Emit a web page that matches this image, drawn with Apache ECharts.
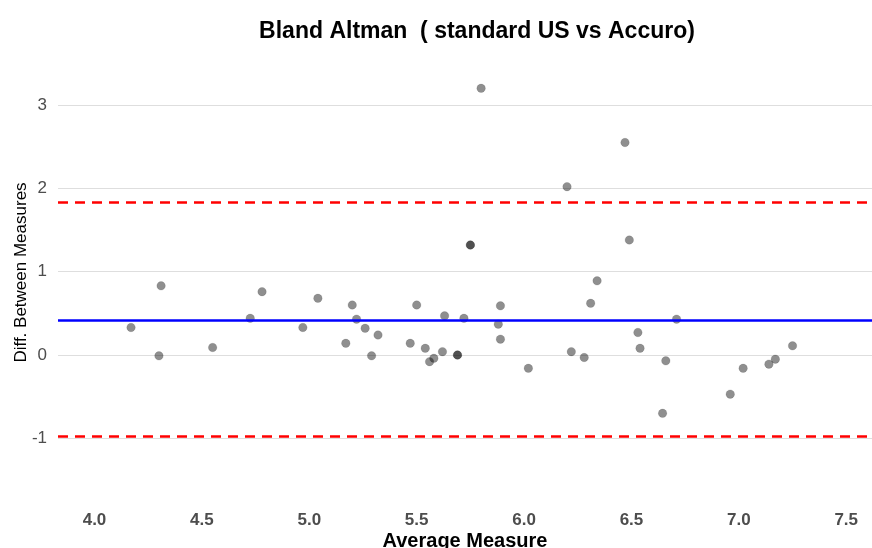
<!DOCTYPE html>
<html>
<head>
<meta charset="utf-8">
<script src="https://cdn.jsdelivr.net/npm/echarts@6/dist/echarts.min.js"></script>
<style>
  html, body { margin: 0; padding: 0; background: #fff; }
  #chart { width: 872px; height: 548px; }
</style>
</head>
<body>
<div id="chart"></div>
<script>
// average of the two measures (x) and their difference (y)
var avgMeasure = [4.17, 4.30, 4.31, 4.55, 4.725, 4.78, 4.97, 5.04, 5.17, 5.20, 5.22, 5.26,
  5.29, 5.32, 5.47, 5.50, 5.54, 5.56, 5.58, 5.62, 5.63, 5.69, 5.69, 5.72, 5.75, 5.75,
  5.80, 5.88, 5.89, 5.89, 6.02, 6.20, 6.22, 6.28, 6.31, 6.34, 6.47, 6.49, 6.53, 6.54,
  6.645, 6.66, 6.71, 6.96, 7.02, 7.14, 7.17, 7.25];
var diffMeasure = [0.33, -0.01, 0.83, 0.09, 0.44, 0.76, 0.33, 0.68, 0.14, 0.60, 0.43, 0.32,
  -0.01, 0.24, 0.14, 0.60, 0.08, -0.08, -0.04, 0.04, 0.47, 0.0, 0.0, 0.44, 1.32, 1.32,
  3.20, 0.37, 0.59, 0.19, -0.16, 2.02, 0.04, -0.03, 0.62, 0.89, 2.55, 1.38, 0.27, 0.08,
  -0.70, -0.07, 0.43, -0.47, -0.16, -0.11, -0.05, 0.11];

var meanDiff = 0.42;
var upperLoA = 1.83;
var lowerLoA = -0.98;

var xTicks = [4.0, 4.5, 5.0, 5.5, 6.0, 6.5, 7.0, 7.5];
var yTicks = [-1, 0, 1, 2, 3];

var points = avgMeasure.map(function (x, i) { return [x, diffMeasure[i]]; });

var myChart = echarts.init(document.getElementById('chart'), null, { renderer: 'canvas' });

myChart.setOption({
  animation: false,
  title: {
    text: 'Bland Altman  ( standard US vs Accuro)',
    left: 472,
    top: 15,
    textAlign: 'center',
    textStyle: { fontFamily: 'Liberation Sans', fontWeight: 'bold', fontSize: 23, color: '#000' }
  },
  grid: { left: 58, right: 0, top: 35, bottom: 38, outerBoundsMode: 'none' },
  xAxis: {
    type: 'value',
    min: 3.83,
    max: 7.62,
    name: 'Average Measure',
    nameLocation: 'middle',
    nameGap: 21,
    nameMoveOverlap: false,
    nameTextStyle: { fontFamily: 'Liberation Sans', fontWeight: 'bold', fontSize: 20, color: '#000' },
    axisLine: { show: false },
    axisTick: { show: false, customValues: xTicks },
    axisLabel: {
      customValues: xTicks,
      margin: 2,
      fontFamily: 'Liberation Sans',
      fontWeight: 'bold',
      fontSize: 17,
      color: '#4d4d4d',
      formatter: function (v) { return v.toFixed(1); }
    },
    splitLine: { show: false }
  },
  yAxis: {
    type: 'value',
    min: -1.86,
    max: 3.84,
    name: 'Diff. Between Measures',
    nameLocation: 'middle',
    nameGap: 28,
    nameMoveOverlap: false,
    nameTextStyle: { fontFamily: 'Liberation Sans', fontSize: 17, color: '#000' },
    axisLine: { show: false },
    axisTick: { show: false, customValues: yTicks },
    axisLabel: {
      customValues: yTicks,
      margin: 11,
      fontFamily: 'Liberation Sans',
      fontSize: 17,
      color: '#4d4d4d'
    },
    splitLine: { show: true, lineStyle: { color: '#dedede', width: 1 } }
  },
  series: [
    {
      type: 'scatter',
      data: points,
      symbolSize: 8.5,
      itemStyle: { color: 'rgba(0,0,0,0.55)', borderColor: 'rgba(0,0,0,0.25)', borderWidth: 0.6 },
      markLine: {
        silent: true,
        symbol: 'none',
        label: { show: false },
        data: [
          { yAxis: meanDiff, lineStyle: { color: '#0000ff', width: 2.5, type: 'solid' } },
          { yAxis: upperLoA, lineStyle: { color: '#ff0000', width: 2.5, type: [10, 7] } },
          { yAxis: lowerLoA, lineStyle: { color: '#ff0000', width: 2.5, type: [10, 7] } }
        ]
      }
    }
  ]
});

window.addEventListener('resize', myChart.resize);
</script>
</body>
</html>
